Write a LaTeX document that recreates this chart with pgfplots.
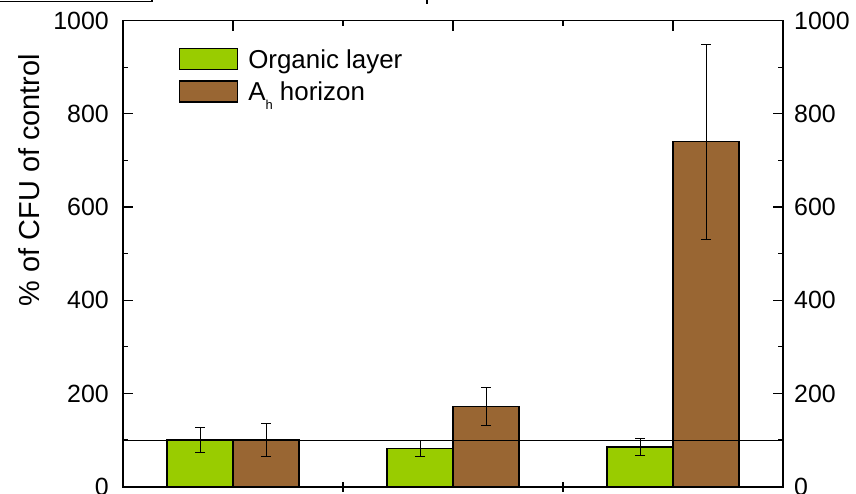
\documentclass[border=0pt]{standalone}
\usepackage{fontspec}
\setmainfont{Liberation Sans}
\usepackage{pgfplots}
\usepackage{pgfplotstable}
\pgfplotsset{compat=1.18}

\definecolor{orglayer}{RGB}{153,204,0}
\definecolor{ahhor}{RGB}{153,102,51}

% mean and error (% of CFU of control) per site; x is the bar centre
\pgfplotstableread{
x y e
-0.15 100 26
0.85 82 18
1.85 85 18
}\organic
\pgfplotstableread{
x y e
0.15 100 35
1.15 172 40
2.15 740 209
}\ahorizon

\pgfplotsset{
  cfuframe/.style={
    scale only axis, width=660bp, height=466bp,
    xmin=-0.5, xmax=2.5, ymin=0, ymax=1000,
    at={(123bp,7.3bp)}, anchor=south west,
    axis line style={line width=1.6bp},
    every tick/.style={black, line width=1.2bp},
    tick label style={font=\fontsize{25}{30}\selectfont},
    /pgf/number format/assume math mode=true,
    /pgf/number format/set thousands separator={},
    xticklabels={},
    ytick={0,200,...,1000}, minor ytick={100,300,...,900},
    major tick length=10bp, minor tick length=5bp,
  },
  cfubar/.style={ybar, bar width=0.3, bar shift=0, fill=#1, draw=black,
    line width=1.2bp,
    legend image code/.code={\draw[fill=#1, draw=black, line width=1.2bp] (0bp,-1bp) rectangle (58bp,20bp);},
    error bars/.cd, y dir=both, y explicit,
    error bar style={line width=1bp, black},
    error mark=|,
    error mark options={line width=1bp, black, mark size=5bp}},
}

\begin{document}
\begin{tikzpicture}
\useasboundingbox (0,0) rectangle (856bp,494bp);

% bars, error bars, reference line, bottom ticks
\begin{axis}[cfuframe,
  xtick={0.5,1.5}, xtick pos=left, tick align=center,
  ytick=\empty, minor ytick={},
  ylabel={\% of CFU of control},
  ylabel style={at={(axis description cs:-0.1424,0.658)}, anchor=center,
    font=\fontsize{29}{34}\selectfont},
  legend style={at={(axis description cs:0.085,0.941)}, anchor=north west,
    draw=none, fill=none, inner sep=0pt, outer sep=0pt,
    row sep=10bp, column sep=10bp,
    font=\fontsize{26}{31}\selectfont,
    cells={anchor=base west},
    nodes={inner sep=0pt, text height=18bp, text depth=1bp}},
]
\addplot[cfubar=orglayer] table[x=x, y=y, y error=e] {\organic};
\addlegendentry{Organic layer}
\addplot[cfubar=ahhor] table[x=x, y=y, y error=e] {\ahorizon};
\addlegendentry{A\raisebox{-9bp}{\fontsize{13}{13}\selectfont h} horizon}
\addplot[black, line width=1bp, forget plot] coordinates {(-0.5,100) (2.5,100)};
\end{axis}

% left scale and top ticks
\begin{axis}[cfuframe, tick align=inside,
  xtick={0,1,2}, minor xtick={0.5,1.5}, xtick pos=right,
  ytick pos=left, yticklabel pos=left,
  yticklabel style={inner sep=0pt, xshift=-14bp}]
\end{axis}

% right scale
\begin{axis}[cfuframe, tick align=inside,
  xtick=\empty,
  ytick pos=right, yticklabel pos=right,
  yticklabel style={inner sep=0pt, xshift=11bp}]
\end{axis}

% edge of the neighbouring panel
\draw[line width=1.2bp] (0,492.3bp) -- (152bp,492.3bp) -- (152bp,494bp);
\draw[line width=1.5bp] (427bp,490bp) -- (427bp,494bp);
\end{tikzpicture}
\end{document}
